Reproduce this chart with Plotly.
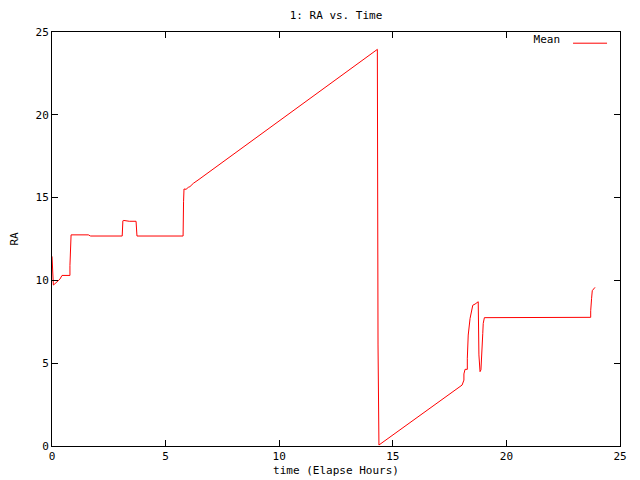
import plotly.graph_objects as go

time_hours = [0.0, 0.02, 0.06, 0.13, 0.35, 0.44, 0.79, 0.79, 0.82, 0.84, 1.6, 1.7, 3.09, 3.12, 3.16, 3.40, 3.70, 3.72, 3.74,
              5.77, 5.77, 5.79, 5.81, 5.90, 6.0, 6.07, 6.22, 6.37, 6.47, 14.32, 14.32, 14.35, 14.35, 14.39,
              15.32, 18.05, 18.13, 18.13, 18.18, 18.28, 18.28, 18.32, 18.4, 18.47, 18.52, 18.62, 18.76,
              18.79, 18.84, 18.88, 18.9, 18.96, 18.98, 19.03, 23.71, 23.71, 23.75, 23.78, 23.84, 23.9]
ra_mean = [11.45, 11.0, 9.72, 9.8, 10.08, 10.3, 10.3, 10.9, 12.5, 12.75, 12.75, 12.68, 12.68, 13.6, 13.62, 13.57, 13.57, 13.08, 12.68,
           12.68, 13.35, 14.75, 15.52, 15.5, 15.62, 15.66, 15.86, 16.0, 16.1, 23.95, 18.07, 17.98, 6.1, 0.06,
           0.97, 3.68, 3.98, 4.35, 4.63, 4.63, 5.3, 6.7, 7.7, 8.2, 8.5, 8.57, 8.71,
           5.5, 4.49, 4.6, 5.5, 6.8, 7.4, 7.75, 7.77, 8.17, 8.92, 9.38, 9.48, 9.58]

x_ticks = [0, 5, 10, 15, 20, 25]
y_ticks = [0, 5, 10, 15, 20, 25]

FONT = "DejaVu Sans Mono"

fig = go.Figure()
fig.add_trace(go.Scatter(x=time_hours, y=ra_mean, mode="lines", name=" ",
                         line=dict(color="#ff0000", width=1)))

axis_common = dict(showgrid=False, zeroline=False, showline=True, linecolor="black", linewidth=1,
                   mirror="ticks", ticks="inside", ticklen=6, tickcolor="black", automargin=False,
                   tickfont=dict(family=FONT, size=11, color="black"))

fig.update_layout(
    width=632, height=472,
    margin=dict(l=44, r=20, t=24, b=34, autoexpand=False),
    paper_bgcolor="white", plot_bgcolor="white",
    title=dict(text="1: RA vs. Time", x=(44 + 284) / 632, xanchor="center", y=1 - 7 / 472, yanchor="middle",
               font=dict(family=FONT, size=11, color="black")),
    xaxis=dict(range=[0, 25], tickvals=x_ticks,
               title=dict(text="time (Elapse Hours)", font=dict(family=FONT, size=11, color="black"), standoff=4),
               **axis_common),
    yaxis=dict(range=[0, 25], tickvals=y_ticks,
               title=dict(text="RA", font=dict(family=FONT, size=11, color="black"), standoff=22),
               **axis_common),
    showlegend=True,
    legend=dict(x=1.008, y=1.008, xanchor="right", yanchor="top", bgcolor="rgba(0,0,0,0)",
                title=dict(text="Mean", side="left", font=dict(family=FONT, size=11, color="black")),
                font=dict(family=FONT, size=11, color="black"), itemwidth=34),
)

fig.write_html("out.html")
